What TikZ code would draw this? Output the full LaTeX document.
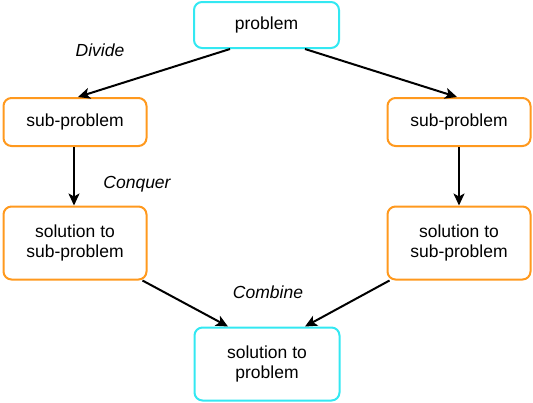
\documentclass[tikz,border=0pt]{standalone}
\usepackage{fontspec}
\setmainfont{Liberation Sans}
\usetikzlibrary{arrows.meta}
\definecolor{cy}{RGB}{51,232,242}
\definecolor{org}{RGB}{255,153,30}
\begin{document}
\begin{tikzpicture}[x=1pt,y=-1pt,
  box/.style={draw, line width=2pt, rounded corners=8pt, align=center, inner sep=0pt,
    font=\fontsize{17.5}{20}\selectfont, fill=white},
  cbox/.style={box, draw=cy},
  obox/.style={box, draw=org},
  arr/.style={line width=2pt, -{Stealth[length=12pt,width=11pt,inset=3pt]}},
  lab/.style={font=\fontsize{17.5}{20}\selectfont\itshape}]
\useasboundingbox (0,0) rectangle (533,402);
\node[cbox, minimum width=145pt, minimum height=46pt] (top) at (266.5,25) {problem};
\node[obox, minimum width=143pt, minimum height=48pt] (ls) at (75,122) {sub-problem};
\node[obox, minimum width=143pt, minimum height=48pt] (rs) at (459,122) {sub-problem};
\node[obox, minimum width=143pt, minimum height=73pt] (lsol) at (75,243) {solution to\\sub-problem};
\node[obox, minimum width=143pt, minimum height=73pt] (rsol) at (459,243) {solution to\\sub-problem};
\node[cbox, minimum width=145pt, minimum height=73pt] (bot) at (267,364) {solution to\\problem};
\draw[arr] ([xshift=-36.5pt]top.south) -- ([xshift=3pt]ls.north);
\draw[arr] ([xshift=38.5pt]top.south) -- ([xshift=-2pt]rs.north);
\draw[arr] ([xshift=-1pt]ls.south) -- ([xshift=-1pt]lsol.north);
\draw[arr] (rs.south) -- (rsol.north);
\draw[arr] ([xshift=-5pt]lsol.south east) -- ([xshift=-39pt]bot.north);
\draw[arr] ([xshift=3pt]rsol.south west) -- ([xshift=38pt]bot.north);
\node[lab] (divide) at (100,50) {Divide};
\node[lab] (conquer) at (137,184) {Conquer};
\node[lab] (combine) at (268,292) {Combine};
\end{tikzpicture}
\end{document}
